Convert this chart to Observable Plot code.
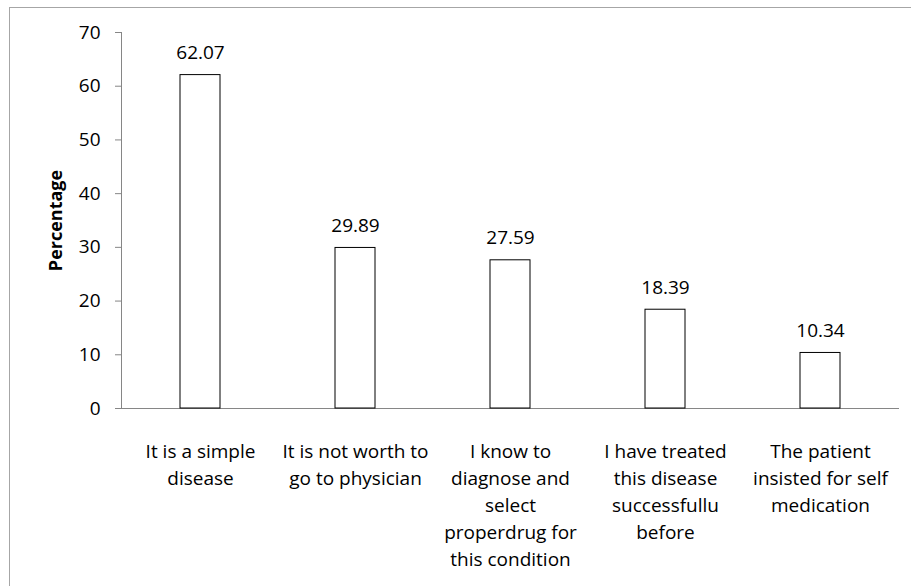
<!DOCTYPE html>
<html>
<head>
<meta charset="utf-8">
<script src="https://cdn.jsdelivr.net/npm/d3@7"></script>
<script src="https://cdn.jsdelivr.net/npm/@observablehq/plot@0.6"></script>
<style>
  html, body { margin: 0; padding: 0; background: #fff; }
  #wrap { position: relative; width: 911px; height: 586px; overflow: hidden; }
  #edge { position: absolute; left: 9px; top: 7px; width: 960px; height: 640px;
          border-left: 1.5px solid #a6a6a6; border-top: 1.5px solid #a6a6a6; box-sizing: border-box; }
  #chart { position: absolute; left: 0; top: 0; }
</style>
</head>
<body>
<div id="wrap"><div id="edge"></div><div id="chart"></div></div>
<script>
// Reasons given for self-medication (percentage of respondents)
const reasons = [
  "It is a simple\ndisease",
  "It is not worth to\ngo to physician",
  "I know to\ndiagnose and\nselect\nproperdrug for\nthis condition",
  "I have treated\nthis disease\nsuccessfullu\nbefore",
  "The patient\ninsisted for self\nmedication"
];
const percentages = [62.07, 29.89, 27.59, 18.39, 10.34];
const yTicks = [0, 10, 20, 30, 40, 50, 60, 70];
const yTitle = "Percentage";

const rows = reasons.map((r, i) => ({reason: r, pct: percentages[i]}));

const axisGrey = "#868686";

const chart = Plot.plot({
  width: 911,
  height: 586,
  marginLeft: 121,
  marginRight: 12,
  marginTop: 32,
  marginBottom: 178,
  style: {fontFamily: "'Open Sans', sans-serif", background: "transparent", color: "#000"},
  x: {domain: reasons, paddingInner: 0.743, paddingOuter: 0.3715, align: 0.5},
  y: {domain: [0, 70]},
  marks: [
    Plot.frame({anchor: "left", stroke: axisGrey}),
    Plot.ruleY([0], {stroke: axisGrey}),
    Plot.barY(rows, {x: "reason", y: "pct", fill: "white", stroke: "black", strokeWidth: 1}),
    Plot.text(rows, {x: "reason", y: "pct", text: d => d.pct.toFixed(2), dy: -16,
      lineAnchor: "bottom", fontSize: 19, fill: "#000"}),
    Plot.axisY({ticks: yTicks, tickSize: 6, tickPadding: 15, stroke: axisGrey,
      fontSize: 19, fill: "#000", label: null}),
    Plot.axisX({tickSize: 0, tickPadding: 30, fontSize: 19, lineHeight: 1.42,
      fill: "#000", label: null}),
    Plot.text([yTitle], {frameAnchor: "left", dx: -65, rotate: -90, textAnchor: "middle",
      fontWeight: "bold", fontSize: 18, fill: "#000"})
  ]
});

document.getElementById("chart").appendChild(chart);
</script>
</body>
</html>
